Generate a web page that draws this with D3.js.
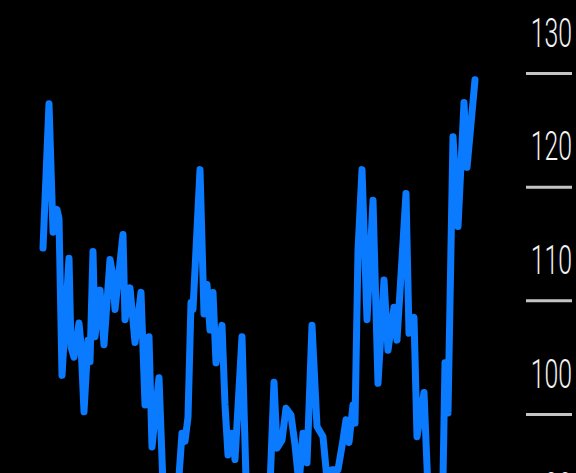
<!DOCTYPE html>
<html>
<head>
<meta charset="utf-8">
<script src="https://cdn.jsdelivr.net/npm/d3@7"></script>
<style>
  html, body { margin: 0; padding: 0; background: #000; overflow: hidden; }
  svg { display: block; }
</style>
</head>
<body>
<script>
// Index series: day offset and index level
const days = [0, 6, 10, 14, 16, 19, 26, 28, 31, 36, 38, 41, 45, 47, 50, 52, 57, 61, 67, 70,
  72, 80, 82, 87, 92, 98, 102, 106, 109, 116, 122, 132, 139, 142, 145, 148, 150, 157, 161, 164,
  167, 170, 173, 179, 182, 185, 189, 192, 199, 205, 219, 225, 231, 234, 239, 243, 248, 252, 256, 260,
  264, 269, 274, 280, 285, 289, 295, 300, 303, 306, 310, 312, 315, 319, 324, 330, 335, 341, 345, 351,
  354, 363, 366, 371, 374, 381, 387, 399, 402, 405, 410, 415, 421, 424, 432];
const values = [114.6, 127.3, 116.0, 118.0, 117.2, 103.4, 113.7, 105.9, 105.0, 108.0, 106.1, 100.2, 106.5, 104.6, 114.3, 106.8, 110.9, 106.1, 113.6, 112.1,
  109.2, 115.8, 108.3, 111.1, 106.3, 110.7, 100.8, 106.8, 97.1, 103.2, 89.0, 89.5, 98.3, 97.6, 99.7, 109.8, 109.2, 121.5, 108.8, 111.4,
  107.4, 110.7, 104.5, 107.8, 100.8, 96.4, 98.3, 96.0, 106.8, 88.0, 87.0, 89.0, 102.8, 97.0, 97.7, 100.5, 99.9, 97.3, 93.8, 98.3,
  95.7, 107.8, 98.9, 98.0, 93.3, 95.1, 95.1, 97.7, 99.5, 97.5, 100.8, 99.2, 114.4, 121.5, 108.3, 118.8, 102.7, 111.8, 105.6, 109.4,
  106.5, 119.4, 107.1, 108.5, 98.0, 101.9, 89.0, 89.0, 104.5, 100.1, 124.4, 116.5, 127.4, 121.7, 129.4];
const tickValues = [90, 100, 110, 120, 130];

const W = 576, H = 473;
const svg = d3.select("body").append("svg")
  .attr("width", W).attr("height", H)
  .style("background", "#000");

const x = d3.scaleLinear().domain([0, 432]).range([43, 475]);
const y = d3.scaleLinear().domain([90, 130]).range([527.7, 73]);

// Right-hand axis: short rules with the level written above each one
const axis = d3.axisRight(y).tickValues(tickValues).tickSize(46).tickFormat(d3.format("d"));
const ag = svg.append("g").attr("transform", "translate(526,0)").call(axis);
ag.select(".domain").remove();
ag.selectAll(".tick line").attr("stroke", "#c4c4c4").attr("stroke-width", 3);
ag.selectAll(".tick text")
  .attr("x", 0).attr("dy", 0)
  .attr("transform", "translate(46,-27) scale(0.62,1)")
  .attr("text-anchor", "end")
  .attr("fill", "#f2f2f2")
  .style("font-family", "Roboto, 'Liberation Sans', Arial, sans-serif")
  .style("font-weight", 300)
  .style("font-size", "40px");

const pts = days.map((d, i) => [d, values[i]]);
const line = d3.line().x(d => x(d[0])).y(d => y(d[1]));

svg.append("path")
  .datum(pts)
  .attr("d", line)
  .attr("fill", "none")
  .attr("stroke", "#0a7bff")
  .attr("stroke-width", 7)
  .attr("stroke-linejoin", "round")
  .attr("stroke-linecap", "round");
</script>
</body>
</html>
